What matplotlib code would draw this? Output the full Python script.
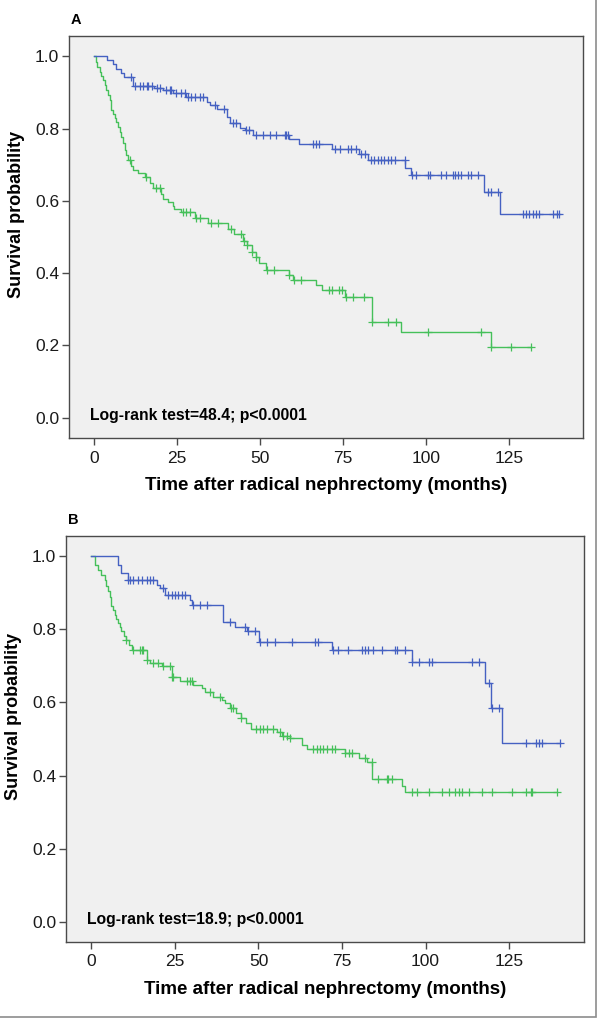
import numpy as np
import matplotlib
matplotlib.use('Agg')
import matplotlib.pyplot as plt
from matplotlib.patches import Rectangle

plt.rcParams['font.family'] = ['Liberation Sans', 'DejaVu Sans']

# ---- panel A data (months, survival) ----
a_hi_t = [0, 3.9, 5.7, 6.7, 8.0, 9.0, 11.6, 18.0, 20.8, 23.8, 27.8, 33.9, 34.9, 36.9,
          39.9, 40.9, 43.9, 45.4, 47.9, 58.8, 61.7, 71.8, 80.0, 82.5, 93.8, 95.6,
          117.5, 122.5]
a_hi_s = [1.0, 0.99, 0.978, 0.966, 0.953, 0.943, 0.918, 0.911, 0.906, 0.897, 0.888,
          0.874, 0.865, 0.853, 0.833, 0.814, 0.802, 0.796, 0.782, 0.772, 0.757, 0.743,
          0.729, 0.713, 0.690, 0.671, 0.625, 0.563]
a_hi_cens = [11, 12.2, 13.8, 14.8, 15.8, 16.3, 17.3, 18.9, 19.9, 21.8, 22.8, 23.3, 24.8,
             26.3, 27.3, 28.3, 29.3, 30.3, 31.8, 32.8, 36.4, 39.1, 41.9, 42.9, 45.9, 46.7,
             48.9, 50.9, 52.9, 54.9, 57.4, 57.9, 58.3, 66, 66.8, 67.8, 72.5, 74, 76.5,
             77.5, 78.8, 80.6, 81.6, 83.5, 84.5, 85.5, 86.5, 87.5, 88.5, 89.5, 90.6, 93.6,
             95.9, 97.1, 100.6, 101.3, 104.6, 106.1, 108.1, 108.9, 109.6, 110.6, 112.6,
             113.6, 115.6, 118.7, 119.7, 121.7, 129.2, 130.2, 131.2, 132.2, 133.2, 134.2,
             138.5, 139.5, 140.3]

a_lo_t = [0, 0.5, 0.9, 1.7, 2.2, 2.7, 3.2, 3.7, 4.2, 4.7, 5.2, 5.7, 6.2, 6.7, 7.2, 7.7,
          8.2, 8.7, 9.2, 9.7, 10.2, 11.2, 11.7, 13.2, 15.2, 16.7, 17.7, 20.2, 20.8, 22.2,
          23.7, 24.2, 26.3, 30.3, 34.2, 40.2, 42.2, 44.9, 46.2, 47.7, 48.7, 49.7, 51.7,
          58.8, 59.8, 66.8, 68.8, 75.5, 83.7, 92.6, 119.7]
a_lo_s = [1.0, 0.985, 0.971, 0.957, 0.945, 0.934, 0.92, 0.906, 0.893, 0.879, 0.851, 0.84,
          0.828, 0.817, 0.805, 0.79, 0.777, 0.76, 0.740, 0.727, 0.713, 0.697, 0.685,
          0.676, 0.667, 0.648, 0.635, 0.620, 0.605, 0.597, 0.585, 0.578, 0.568, 0.552,
          0.538, 0.522, 0.508, 0.490, 0.478, 0.459, 0.445, 0.427, 0.409, 0.395, 0.381,
          0.367, 0.353, 0.333, 0.266, 0.236, 0.196]
a_lo_cens = [10.7, 15.7, 18.7, 19.7, 26.8, 27.8, 28.8, 30.8, 31.8, 35.2, 37.2, 41.2, 44.2,
             45.2, 46.2, 47.7, 48.7, 52.2, 54.2, 58.8, 60.3, 62.3, 70.8, 71.8, 73.8, 74.8,
             75.8, 78, 81.5, 83.7, 88.5, 91, 100.6, 116.7, 119.7, 125.7, 131.7]

# ---- panel B data ----
b_hi_t = [0, 8.0, 9.0, 11.0, 19.5, 20.5, 22.0, 29.5, 30.0, 39.5, 43.0, 46.5, 50.3, 71.9,
          95.9, 117.7, 119.7, 122.9]
b_hi_s = [1.0, 0.977, 0.956, 0.936, 0.922, 0.913, 0.895, 0.881, 0.868, 0.820, 0.808, 0.796,
          0.767, 0.744, 0.710, 0.653, 0.585, 0.489]
b_hi_cens = [11.0, 11.5, 12.5, 14, 15, 16.5, 17.5, 18.5, 21.5, 23, 24, 25, 26, 27, 28, 30.5,
             32.5, 34.5, 41.5, 46, 47, 49, 50.5, 52.5, 55, 60, 66.9, 67.9, 72.4, 73.9,
             76.9, 80.9, 81.9, 82.9, 84.4, 86.9, 90.9, 91.4, 93.9, 95.9, 97.9, 100.9,
             101.9, 113.9, 115.9, 119, 119.9, 121.9, 129.9, 132.9, 133.9, 134.9, 140.2]

b_lo_t = [0, 1.0, 2.0, 3.0, 4.0, 4.5, 5.0, 5.5, 6.0, 6.5, 7.0, 7.5, 8.0, 8.5, 9.0, 9.7,
          10.5, 11.2, 12.0, 16.5, 17.5, 21.0, 24.0, 26.5, 30.5, 33.0, 34.0, 36.5, 39.0,
          40.0, 41.5, 43.4, 44.9, 46.4, 47.9, 55.4, 57.0, 59.4, 62.9, 64.4, 75.9, 80.0,
          82.5, 84.0, 92.9, 93.9]
b_lo_s = [1.0, 0.977, 0.963, 0.950, 0.936, 0.918, 0.904, 0.890, 0.863, 0.852, 0.840, 0.828,
          0.817, 0.806, 0.795, 0.783, 0.772, 0.758, 0.744, 0.717, 0.708, 0.699, 0.671,
          0.658, 0.648, 0.639, 0.630, 0.616, 0.607, 0.598, 0.584, 0.571, 0.557, 0.543,
          0.527, 0.518, 0.509, 0.502, 0.484, 0.472, 0.461, 0.448, 0.438, 0.390, 0.372,
          0.355]
b_lo_cens = [10.5, 12.5, 14.5, 15, 15.5, 16.5, 18.5, 20, 21.5, 23.5, 24, 24.5, 28.5, 29.5,
             30, 35.5, 38.5, 41.9, 42.4, 44.9, 49.4, 50.4, 51.4, 52.4, 54.4, 56.4, 57.4,
             58.4, 59.4, 66.4, 67.4, 68.4, 69.4, 70.4, 71.9, 72.9, 76, 77, 78, 82, 83.9,
             85.9, 88.4, 88.9, 89.9, 95.9, 97.4, 100.9, 104.9, 106.9, 108.9, 109.9, 110.9,
             112.9, 116.9, 119.9, 125.9, 129.9, 131.4, 131.9, 139.2]

panels = [
    ('A', 'Log-rank test=48.4; p<0.0001', (a_hi_t, a_hi_s, a_hi_cens), (a_lo_t, a_lo_s, a_lo_cens)),
    ('B', 'Log-rank test=18.9; p<0.0001', (b_hi_t, b_hi_s, b_hi_cens), (b_lo_t, b_lo_s, b_lo_cens)),
]

blue = '#4561c2'
green = '#45c05a'
spine_c = '#4a4a4a'

W, H = 600, 1018
fig = plt.figure(figsize=(W / 100, H / 100), dpi=100)
# axes boxes in pixels: left, top, right, bottom
boxes = [(69, 36, 583, 438), (66, 536, 584, 942)]


def km(ax, t, s, cens, color):
    t = np.array(t)
    s = np.array(s)
    cens = np.array(cens)
    end = cens.max()
    xs = np.append(t, end)
    ys = np.append(s, s[-1])
    ax.step(xs, ys, where='post', color=color, lw=1.0, zorder=3)
    idx = np.searchsorted(t, cens, side='right') - 1
    ax.plot(cens, s[idx], ls='none', marker='+', ms=5.5, mew=0.9, color=color, zorder=4)


for (letter, note, hi, lo), (l, t, r, b) in zip(panels, boxes):
    ax = fig.add_axes([l / W, 1 - b / H, (r - l) / W, (b - t) / H])
    ax.set_facecolor('#f0f0f0')
    km(ax, *lo, green)
    km(ax, *hi, blue)
    ax.set_xlim(-7.6, 147.4)
    ax.set_ylim(-0.056, 1.056)
    ax.set_xticks([0, 25, 50, 75, 100, 125])
    ax.set_yticks([0.0, 0.2, 0.4, 0.6, 0.8, 1.0])
    ax.set_yticklabels(['0.0', '0.2', '0.4', '0.6', '0.8', '1.0'])
    for sp in ax.spines.values():
        sp.set_color(spine_c)
        sp.set_linewidth(1.0)
    ax.tick_params(direction='out', length=5, width=1.0, color=spine_c,
                   labelsize=12.5, labelcolor='#1a1a1a', pad=2)
    ax.tick_params(axis='x', pad=4)
    ax.set_xlabel('Time after radical nephrectomy (months)', fontsize=13.5,
                  fontweight='bold', labelpad=8)
    ax.set_ylabel('Survival probability', fontsize=13, fontweight='bold')
    ax.yaxis.set_label_coords(-0.085, 0.555)
    ax.text(0.04, 0.055, note, transform=ax.transAxes, fontsize=11.3,
            fontweight='bold', ha='left', va='center')
    fig.text((l + 2) / W, 1 - (t - 16) / H, letter, fontsize=10.5, fontweight='bold',
             ha='left', va='center')

# outer frame lines (right and bottom)
fig.add_artist(Rectangle((-0.01, 1 - 1016.5 / H), 595.5 / W + 0.01, 1016.5 / H + 0.01,
                         transform=fig.transFigure, fill=False, ec='#8c8c8c', lw=1.2))

fig.savefig('out.png', dpi=100)
